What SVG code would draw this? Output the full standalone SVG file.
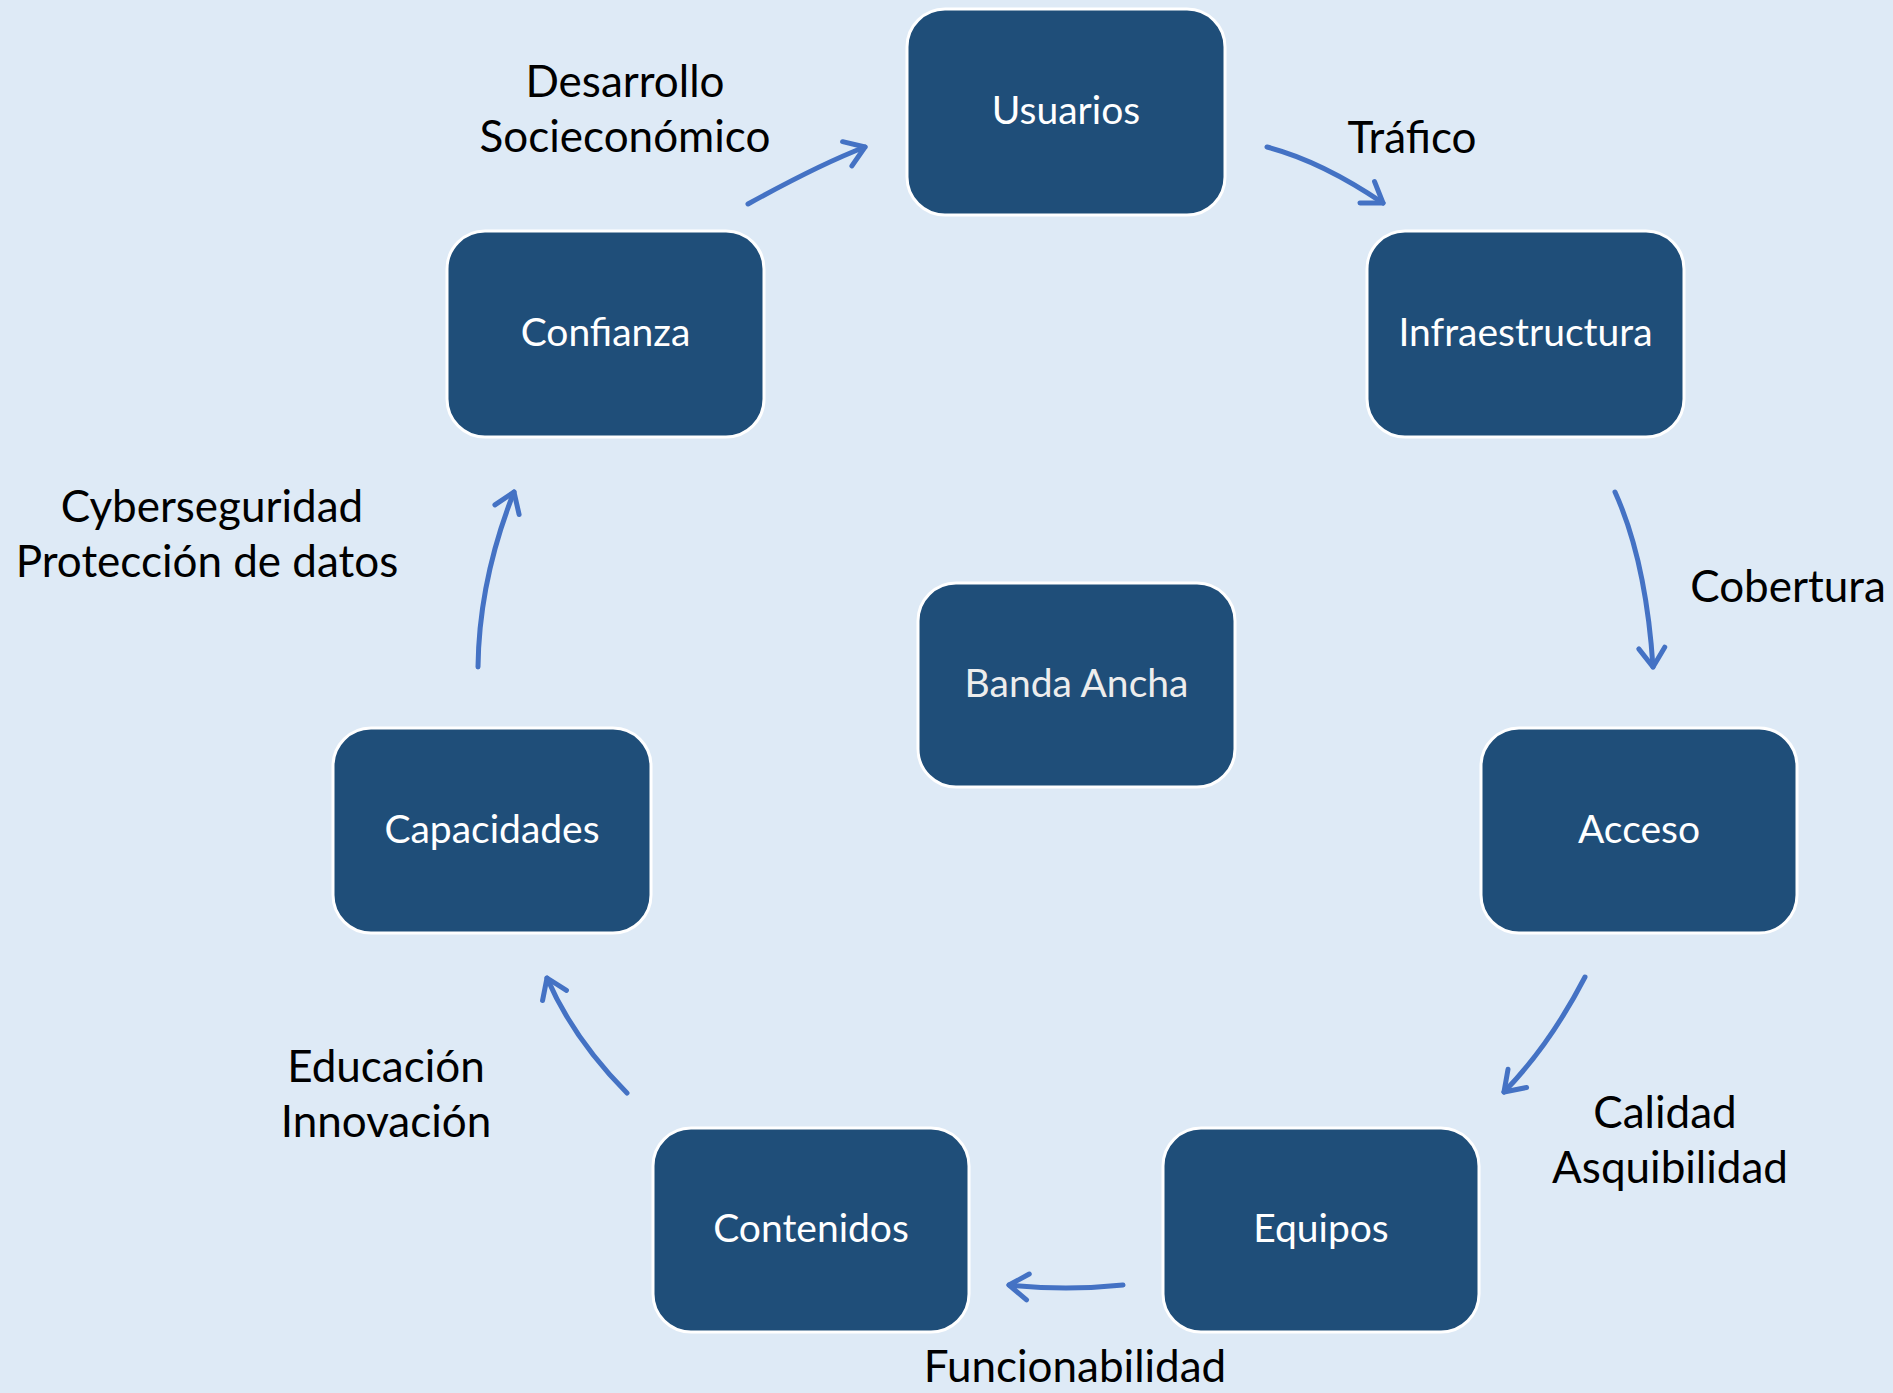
<svg xmlns="http://www.w3.org/2000/svg" width="1893" height="1393" viewBox="0 0 1893 1393">
<style>
.node rect{fill:#1F4E79;stroke:#FFFFFF;stroke-width:3}
.node text{fill:#FFFFFF;font-family:Lato,"Open Sans","Liberation Sans",sans-serif;font-size:39px;text-anchor:middle}
.lbl{fill:#000000;font-family:Lato,"Open Sans","Liberation Sans",sans-serif;font-size:44px;text-anchor:middle}
.conn path{fill:none;stroke:#4472C4;stroke-width:5;stroke-linecap:round}
</style>
<defs>
<marker id="ah" viewBox="-24 -18 30 36" markerWidth="30" markerHeight="36" refX="0" refY="0" orient="auto" markerUnits="userSpaceOnUse">
<path d="M-19,-13 L0,0 L-19,13" fill="none" stroke="#4472C4" stroke-width="5" stroke-linecap="round" stroke-linejoin="round"/>
</marker>
</defs>
<rect x="0" y="0" width="1893" height="1393" fill="#DEEAF6"/>
<g id="connectors" class="conn">
<path d="M748,204 Q819.5,164.5 865,147" marker-end="url(#ah)"/>
<path d="M1267,147 Q1321,161 1383,203" marker-end="url(#ah)"/>
<path d="M1615,492 Q1646,560.5 1653,667" marker-end="url(#ah)"/>
<path d="M1585,977 Q1549.5,1045.5 1504,1092" marker-end="url(#ah)"/>
<path d="M1123,1285 Q1066,1291 1009,1285" marker-end="url(#ah)"/>
<path d="M627,1093 Q573,1038.5 547,978" marker-end="url(#ah)"/>
<path d="M478,667 Q479,580.5 514,492" marker-end="url(#ah)"/>
</g>
<g id="node-usuarios" class="node"><rect x="907" y="9" width="318" height="206" rx="38"/><text x="1066" y="124">Usuarios</text></g>
<g id="node-infraestructura" class="node"><rect x="1367" y="231" width="317" height="206" rx="38"/><text x="1525.5" y="346">Infraestructura</text></g>
<g id="node-acceso" class="node"><rect x="1481" y="728" width="316" height="205" rx="38"/><text x="1639" y="843">Acceso</text></g>
<g id="node-equipos" class="node"><rect x="1163" y="1128" width="316" height="204" rx="38"/><text x="1321" y="1242">Equipos</text></g>
<g id="node-contenidos" class="node"><rect x="653" y="1128" width="316" height="204" rx="38"/><text x="811" y="1242">Contenidos</text></g>
<g id="node-capacidades" class="node"><rect x="333" y="728" width="318" height="205" rx="38"/><text x="492" y="843">Capacidades</text></g>
<g id="node-confianza" class="node"><rect x="447" y="231" width="317" height="206" rx="38"/><text x="605.5" y="346">Confianza</text></g>
<g id="node-banda-ancha" class="node"><rect x="918" y="583" width="317" height="204" rx="38"/><text x="1076.5" y="697" style="fill:#EDEDED">Banda Ancha</text></g>
<g id="labels">
<text class="lbl" x="625" y="97">Desarrollo</text>
<text class="lbl" x="625" y="152">Socieconómico</text>
<text class="lbl" x="1412" y="153">Tráfico</text>
<text class="lbl" x="1788" y="602">Cobertura</text>
<text class="lbl" x="1665" y="1128">Calidad</text>
<text class="lbl" x="1670" y="1183">Asquibilidad</text>
<text class="lbl" x="1075" y="1382">Funcionabilidad</text>
<text class="lbl" x="386" y="1082">Educación</text>
<text class="lbl" x="386" y="1137">Innovación</text>
<text class="lbl" x="212" y="522">Cyberseguridad</text>
<text class="lbl" x="207" y="577">Protección de datos</text>
</g>
</svg>
